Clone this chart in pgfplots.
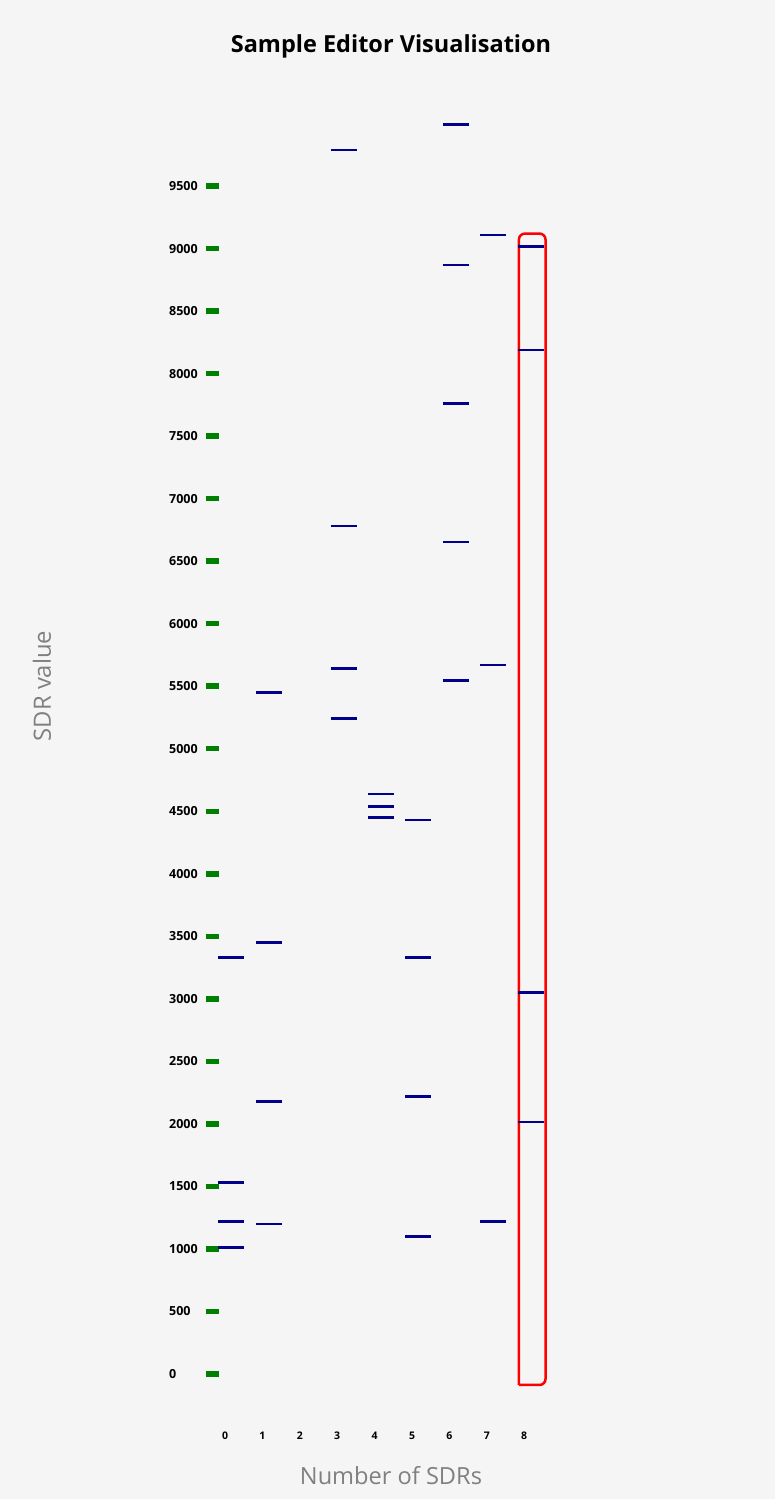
\documentclass[border=0pt]{standalone}
\usepackage{pgfplots}
\pgfplotsset{compat=1.18}
\usepackage{fontspec}
\setmainfont{Open Sans}
\definecolor{bgc}{HTML}{F5F5F5}
\definecolor{sdrblue}{HTML}{00008B}
\definecolor{tickgreen}{HTML}{008000}
\definecolor{labgray}{HTML}{808080}
\pgfdeclareplotmark{sdr}{%
  \pgfpathmoveto{\pgfqpoint{-6.5pt}{0pt}}%
  \pgfpathlineto{\pgfqpoint{19.5pt}{0pt}}%
  \pgfusepathqstroke}
\begin{document}
\begin{tikzpicture}
\fill[bgc] (-206pt,-87.5pt) rectangle (569pt,1411.5pt);
\begin{axis}[
  at={(0pt,0pt)}, anchor=south west,
  scale only axis,
  width=355.6pt, height=1325.5pt,
  xmin=-0.508, xmax=9,
  ymin=-300, ymax=10300,
  clip=false,
  scaled y ticks=false, scaled x ticks=false,
  axis line style={draw=none},
  xtick={0,1,2,3,4,5,6,7,8},
  xticklabels={0,1,2,3,4,5,6,7,8},
  ytick={0,500,1000,1500,2000,2500,3000,3500,4000,4500,5000,5500,6000,6500,7000,7500,8000,8500,9000,9500},
  yticklabels={0,500,1000,1500,2000,2500,3000,3500,4000,4500,5000,5500,6000,6500,7000,7500,8000,8500,9000,9500},
  tick align=inside,
  xtick pos=bottom, ytick pos=left,
  major tick length=13pt,
  xtick style={draw=none},
  ytick style={draw=tickgreen, line width=5.5pt},
  yticklabel style={font=\fontsize{12.5}{15}\selectfont\bfseries, anchor=west, inner sep=0pt, xshift=-37pt},
  xticklabel style={font=\fontsize{10.5}{12}\selectfont\bfseries, anchor=north, inner sep=0pt, yshift=-20.5pt},
]
\addplot[only marks, mark=sdr, mark options={draw=sdrblue, line width=2.5pt}] coordinates {
 (0,3330) (0,1530) (0,1220) (0,1010)
 (1,3450) (1,5450) (1,2180) (1,1200)
 (3,9790) (3,6780) (3,5640) (3,5240)
 (4,4640) (4,4540) (4,4450)
 (5,4430) (5,3330) (5,2220) (5,1100)
 (6,9990) (6,8870) (6,7760) (6,6655) (6,5545)
 (7,9110) (7,5670) (7,1220)
 (8,9015) (8,8190) (8,3050) (8,2015)
};
\addplot[draw=red, line width=2.5pt, rounded corners=6pt] coordinates {
 (7.86,-88) (8.57,-88) (8.57,9120) (7.86,9120) (7.86,-88)};
\end{axis}
\node[anchor=base, font=\fontsize{23.5}{26}\selectfont\bfseries] at (185pt,1358.8pt) {Sample Editor Visualisation};
\node[anchor=base, text=labgray, font=\fontsize{23.6}{26}\selectfont] at (185pt,-72.5pt) {Number of SDRs};
\node[rotate=90, text=labgray, font=\fontsize{23.8}{26}\selectfont] at (-164pt,725.5pt) {SDR value};
\end{tikzpicture}
\end{document}
